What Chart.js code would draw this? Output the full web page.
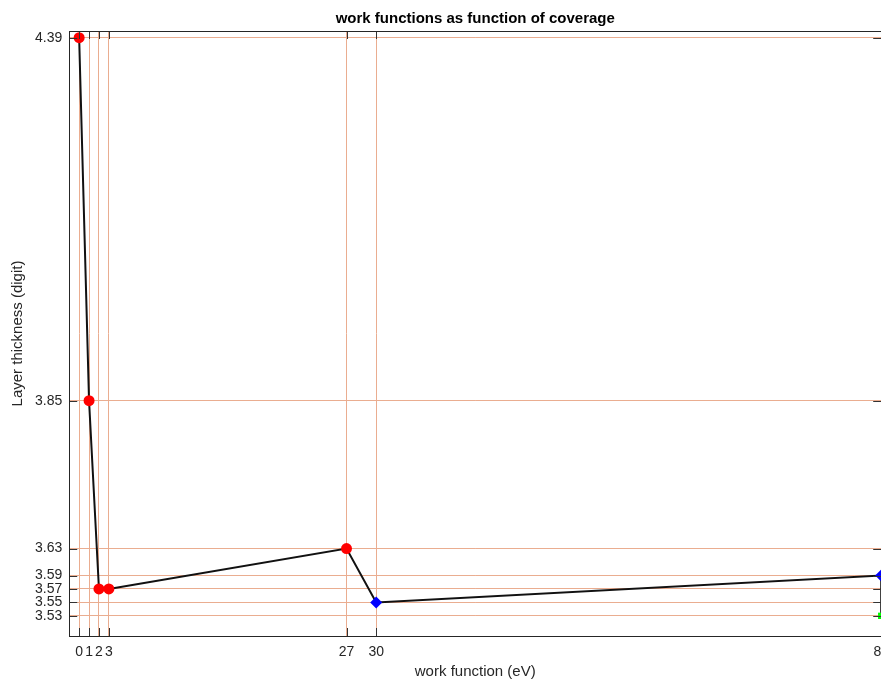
<!DOCTYPE html>
<html>
<head>
<meta charset="utf-8">
<script src="https://cdn.jsdelivr.net/npm/chart.js@4"></script>
<style>
  html, body { margin: 0; padding: 0; background: #fff; overflow: hidden; }
  #wrap { width: 881px; height: 682px; overflow: hidden; }
  #wrap canvas { display: block; }
</style>
</head>
<body>
<div id="wrap"><canvas id="myChart" width="898" height="682" style="width:898px;height:682px"></canvas></div>
<script>
  const coverage = [0, 1, 2, 3, 27, 30, 81, 81];
  const thickness = [4.39, 3.85, 3.57, 3.57, 3.63, 3.55, 3.59, 3.53];
  const markerColors = ['#ff0000', '#ff0000', '#ff0000', '#ff0000', '#ff0000', '#0000ff', '#0000ff', '#00ff00'];
  const markerStyles = ['circle', 'circle', 'circle', 'circle', 'circle', 'rectRot', 'rectRot', 'rect'];
  const xTicks = [0, 1, 2, 3, 27, 30, 81];
  const yTicks = [3.53, 3.55, 3.57, 3.59, 3.63, 3.85, 4.39];

  const gridColor = '#eaad90';
  const fontFamily = '"Liberation Sans", Arial, sans-serif';

  // kader en naar binnen wijzende tick-streepjes zoals in MATLAB
  const boxPlugin = {
    id: 'boxPlugin',
    afterDraw(chart) {
      const { ctx, chartArea: a, scales } = chart;
      ctx.save();
      ctx.strokeStyle = '#333';
      ctx.lineWidth = 1;
      xTicks.forEach(v => {
        const px = Math.round(scales.x.getPixelForValue(v)) + 0.5;
        ctx.beginPath();
        ctx.moveTo(px, a.bottom); ctx.lineTo(px, a.bottom - 8);
        ctx.moveTo(px, a.top); ctx.lineTo(px, a.top + 8);
        ctx.stroke();
      });
      yTicks.forEach(v => {
        const py = Math.round(scales.y.getPixelForValue(v)) + 0.5;
        ctx.beginPath();
        ctx.moveTo(a.left, py); ctx.lineTo(a.left + 8, py);
        ctx.moveTo(a.right, py); ctx.lineTo(a.right - 8, py);
        ctx.stroke();
      });
      ctx.strokeStyle = '#262626';
      ctx.strokeRect(Math.round(a.left) + 0.5, Math.round(a.top) + 0.5,
        Math.round(a.right - a.left), Math.round(a.bottom - a.top));
      ctx.restore();
    }
  };

  function createChart(ctx) {
    const points = coverage.map((x, i) => ({ x: x, y: thickness[i] }));

    return new Chart(ctx, {
      type: 'line',
      data: {
        datasets: [{
          label: 'work function',
          data: points,
          borderColor: '#111',
          borderWidth: 2,
          tension: 0,
          clip: false,
          pointStyle: markerStyles,
          pointBackgroundColor: markerColors,
          pointBorderColor: markerColors,
          pointRadius: [5.5, 5.5, 5.5, 5.5, 5.5, 6, 6, 4.5],
          pointBorderWidth: 0
        }]
      },
      options: {
        responsive: false,
        animation: false,
        layout: { padding: { left: 0, right: 0, top: 0, bottom: 0 } },
        plugins: {
          legend: { display: false },
          tooltip: { enabled: false },
          title: {
            display: true,
            fullSize: false,
            text: 'work functions as function of coverage',
            color: '#000',
            font: { family: fontFamily, size: 15, weight: 'bold' },
            padding: { top: 10, bottom: 3 }
          }
        },
        scales: {
          x: {
            type: 'linear',
            min: -1,
            max: 81,
            afterBuildTicks: scale => { scale.ticks = xTicks.map(v => ({ value: v })); },
            afterFit: scale => { scale.height = 46; },
            ticks: {
              autoSkip: false,
              maxRotation: 0,
              color: '#262626',
              padding: 9,
              font: { family: fontFamily, size: 14, lineHeight: 1 },
              callback: v => String(v)
            },
            grid: { color: gridColor, drawTicks: false },
            border: { display: false },
            title: {
              display: true,
              text: 'work function (eV)',
              color: '#262626',
              font: { family: fontFamily, size: 15, lineHeight: 1 },
              padding: { top: 0, bottom: 3 }
            }
          },
          y: {
            type: 'linear',
            min: 3.50,
            max: 4.40,
            afterBuildTicks: scale => { scale.ticks = yTicks.map(v => ({ value: v })); },
            ticks: {
              autoSkip: false,
              color: '#262626',
              padding: 7,
              font: { family: fontFamily, size: 14 },
              callback: v => v.toFixed(2)
            },
            grid: { color: gridColor, drawTicks: false },
            border: { display: false },
            title: {
              display: true,
              text: 'Layer thickness (digit)',
              color: '#262626',
              font: { family: fontFamily, size: 15 },
              padding: { top: 9, bottom: 1 }
            }
          }
        }
      },
      plugins: [boxPlugin]
    });
  }

  window.addEventListener('DOMContentLoaded', () => {
    const ctx = document.getElementById('myChart').getContext('2d');
    createChart(ctx);
  });
</script>
</body>
</html>
